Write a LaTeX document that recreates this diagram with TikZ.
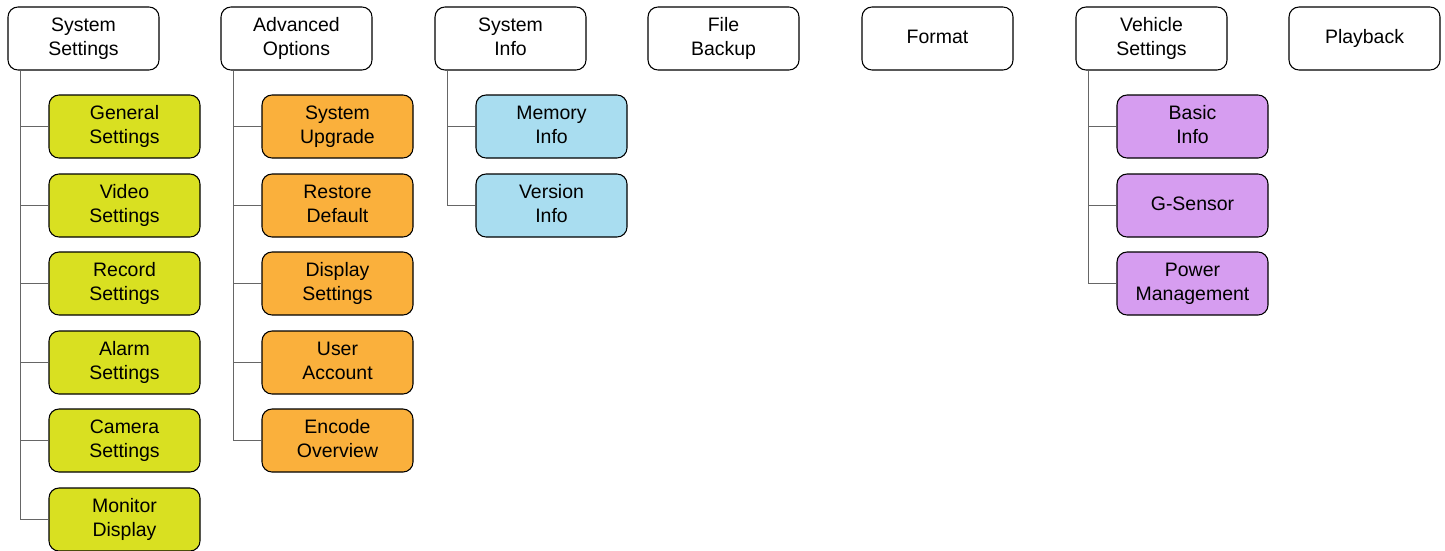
\documentclass[tikz,border=0pt]{standalone}
\usepackage{fontspec}
\setmainfont{Liberation Sans}
\definecolor{cgreen}{HTML}{D9E021}
\definecolor{corange}{HTML}{FAB03C}
\definecolor{cblue}{HTML}{A9DDF0}
\definecolor{cpurple}{HTML}{D69DF0}
\definecolor{cline}{HTML}{666666}
\newcommand{\lnst}{\strut}
\tikzset{
  box/.style={draw=black, line width=0.8pt, rounded corners=7.5pt, fill=white,
    minimum width=113.25pt, minimum height=47.25pt, align=center,
    font=\fontsize{14.6}{18}\selectfont, inner sep=0pt},
  gbox/.style={box, fill=cgreen},
  obox/.style={box, fill=corange},
  bbox/.style={box, fill=cblue},
  pbox/.style={box, fill=cpurple},
  conn/.style={draw=cline, line width=1.2pt}
}
\begin{document}
\begin{tikzpicture}[x=0.75pt,y=-0.75pt]
\useasboundingbox (0,0) rectangle (1445,550);
% top level
\node[box] (ss) at (83.5,38.5) {\lnst System\\\lnst Settings};
\node[box] (ao) at (296.5,38.5) {\lnst Advanced\\\lnst Options};
\node[box] (si) at (510.5,38.5) {\lnst System\\\lnst Info};
\node[box] (fb) at (723.5,38.5) {\lnst File\\\lnst Backup};
\node[box] (fm) at (937.5,38.5) {\lnst Format};
\node[box] (vs) at (1151.5,38.5) {\lnst Vehicle\\\lnst Settings};
\node[box] (pb) at (1364.5,38.5) {\lnst Playback};
% system settings children
\node[gbox] (gs) at (124.5,126.5) {\lnst General\\\lnst Settings};
\node[gbox] (vds) at (124.5,205.5) {\lnst Video\\\lnst Settings};
\node[gbox] (rs) at (124.5,283.5) {\lnst Record\\\lnst Settings};
\node[gbox] (as) at (124.5,362.5) {\lnst Alarm\\\lnst Settings};
\node[gbox] (cs) at (124.5,440.5) {\lnst Camera\\\lnst Settings};
\node[gbox] (md) at (124.5,519.5) {\lnst Monitor\\\lnst Display};
% advanced options children
\node[obox] (su) at (337.5,126.5) {\lnst System\\\lnst Upgrade};
\node[obox] (rd) at (337.5,205.5) {\lnst Restore\\\lnst Default};
\node[obox] (ds) at (337.5,283.5) {\lnst Display\\\lnst Settings};
\node[obox] (ua) at (337.5,362.5) {\lnst User\\\lnst Account};
\node[obox] (eo) at (337.5,440.5) {\lnst Encode\\\lnst Overview};
% system info children
\node[bbox] (mi) at (551.5,126.5) {\lnst Memory\\\lnst Info};
\node[bbox] (vi) at (551.5,205.5) {\lnst Version\\\lnst Info};
% vehicle settings children
\node[pbox] (bi) at (1192.5,126.5) {\lnst Basic\\\lnst Info};
\node[pbox] (gsn) at (1192.5,205.5) {\lnst G-Sensor};
\node[pbox] (pm) at (1192.5,283.5) {\lnst Power\\\lnst Management};
% connectors
\foreach \p/\c in {ss/gs,ss/vds,ss/rs,ss/as,ss/cs,ss/md,
                   ao/su,ao/rd,ao/ds,ao/ua,ao/eo,
                   si/mi,si/vi,
                   vs/bi,vs/gsn,vs/pm}{
  \draw[conn] ([xshift=9.75pt]\p.south west) |- (\c.west);
}
\end{tikzpicture}
\end{document}
